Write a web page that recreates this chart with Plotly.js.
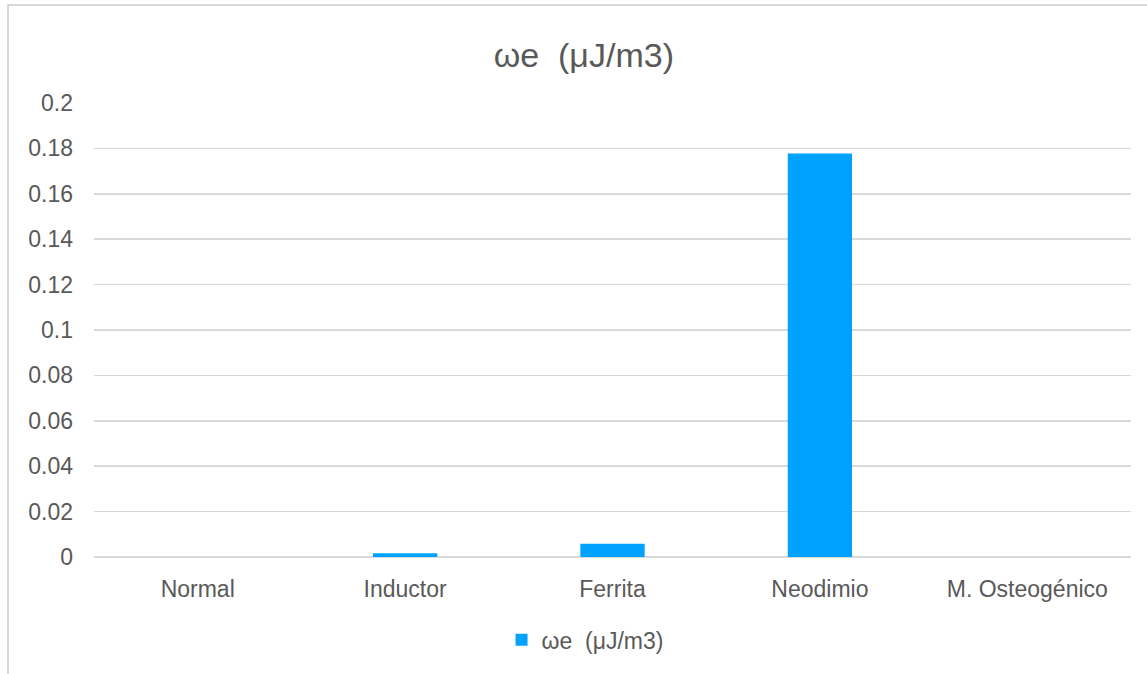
<!DOCTYPE html>
<html>
<head>
<meta charset="utf-8">
<script src="https://cdn.plot.ly/plotly-3.0.1.min.js"></script>
<style>
html,body{margin:0;padding:0;background:#fff;}
#chart{width:1147px;height:674px;}
</style>
</head>
<body>
<div id="chart"></div>
<script>
const categories = ["Normal", "Inductor", "Ferrita", "Neodimio", "M. Osteogénico"];
const values = [0, 0.0016, 0.0058, 0.1778, 0];
const seriesName = "ωe  (μJ/m3)";
const yTicks = [0, 0.02, 0.04, 0.06, 0.08, 0.1, 0.12, 0.14, 0.16, 0.18, 0.2];
const yTickText = ["0", "0.02", "0.04", "0.06", "0.08", "0.1", "0.12", "0.14", "0.16", "0.18", "0.2"];

const font = "Liberation Sans, Arial, Helvetica, sans-serif";
const trace = {
  type: "bar",
  x: categories,
  y: values,
  name: seriesName,
  marker: {color: "#00a2ff"},
  showlegend: true,
  hoverinfo: "x+y"
};
const layout = {
  width: 1147,
  height: 674,
  margin: {l: 94, r: 16, t: 103, b: 117},
  paper_bgcolor: "#ffffff",
  plot_bgcolor: "#ffffff",
  font: {family: font, color: "#595959", size: 23},
  title: {text: seriesName, font: {family: font, size: 34, color: "#595959"}, xref: "container", x: 0.509, xanchor: "center", y: 0.918, yanchor: "middle"},
  bargap: 0.69,
  xaxis: {
    type: "category",
    showgrid: false,
    showline: false,
    zeroline: false,
    ticks: "",
    tickfont: {family: font, size: 23, color: "#595959"},
    ticklabelstandoff: 16
  },
  yaxis: {
    range: [0, 0.2],
    tickvals: yTicks,
    ticktext: yTickText,
    showgrid: true,
    gridcolor: "#d9d9d9",
    gridwidth: 1.5,
    zeroline: true,
    zerolinecolor: "#d9d9d9",
    zerolinewidth: 1.5,
    showline: false,
    ticks: "",
    tickfont: {family: font, size: 23, color: "#595959"},
    ticklabelstandoff: 20
  },
  showlegend: true,
  legend: {
    orientation: "h",
    x: 0.393,
    xanchor: "left",
    y: -0.135,
    yanchor: "top",
    font: {family: font, size: 23, color: "#595959"},
    itemwidth: 30
  },
  shapes: [{
    type: "rect",
    xref: "paper", yref: "paper",
    x0: (8 - 94) / 1037, x1: (1160 - 94) / 1037,
    y0: (557 - 690) / 454, y1: (557 - 5) / 454,
    line: {color: "#d9d9d9", width: 2},
    fillcolor: "rgba(0,0,0,0)",
    layer: "below"
  }]
};
Plotly.newPlot("chart", [trace], layout, {displayModeBar: false, staticPlot: true});
</script>
</body>
</html>
